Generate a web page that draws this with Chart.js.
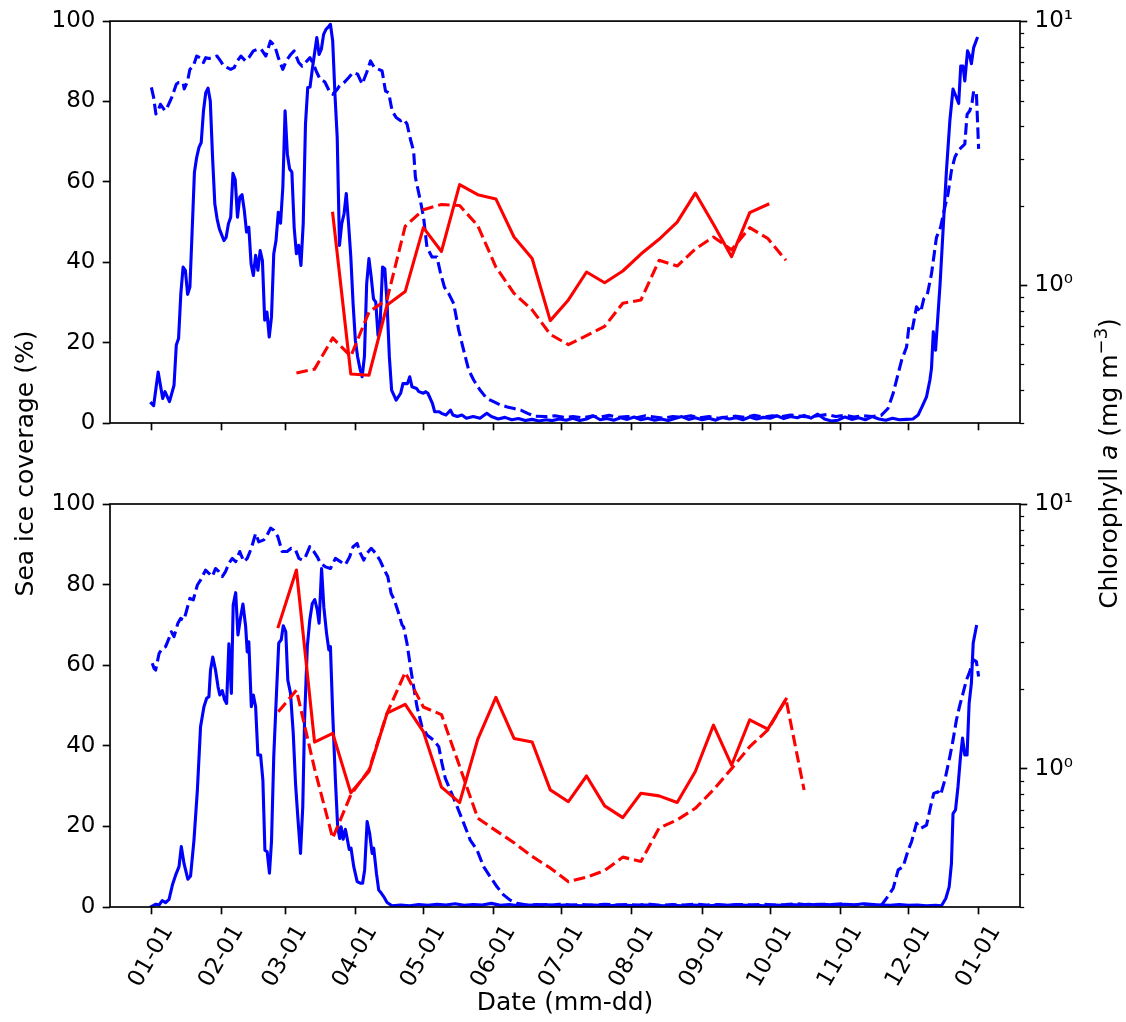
<!DOCTYPE html>
<html><head><meta charset="utf-8">
<script src="https://cdn.jsdelivr.net/npm/chart.js@4.4.0/dist/chart.umd.min.js"></script>
<style>
html,body{margin:0;padding:0;background:#fff;}
#wrap{position:relative;width:1126px;height:1022px;background:#fff;}
canvas{position:absolute;left:0;top:0;}
</style></head><body>
<div id="wrap"><canvas id="c1" width="1126" height="1022" style="width:1126px;height:1022px"></canvas><canvas id="c2" width="1126" height="1022" style="width:1126px;height:1022px"></canvas></div>
<script>
// ---------- DATA ----------
const monthTickDays = [0,31,59,90,120,151,181,212,243,273,304,334,365];
const monthTickLabels = ['01-01','02-01','03-01','04-01','05-01','06-01','07-01','08-01','09-01','10-01','11-01','12-01','01-01'];
const chlTickValues = [0.3,0.4,0.5,0.6,0.7,0.8,0.9,1,2,3,4,5,6,7,8,9,10];

// top panel: sea ice of the year (solid) [day, %]
const topIceYear = [[0,4.9],[1,4.3],[3,12.7],[5,6.1],[6,7.8],[8,5.3],[10,9.4],[11,19.4],[12,21],[13,32.2],[14,38.8],[15,38],[16,32],[17,33.8],[18,47.9],[19,62.4],[20,66.1],[21,68.6],[22,69.8],[23,77.7],[24,82.2],[25,83.3],[26,80.1],[27,66.1],[28,54.5],[29,50.8],[30,48.3],[32,45.4],[33,46.2],[34,49.6],[35,51.2],[36,62.1],[37,60.5],[38,51.2],[39,56.2],[40,56.8],[41,52.9],[42,47.5],[43,48.7],[44,39.6],[45,36.7],[46,41.7],[47,38],[48,42.9],[49,40.4],[50,25.6],[51,27.6],[52,21.4],[53,26.4],[54,42.1],[55,45.4],[56,52.4],[57,49.7],[58,58.6],[59,77.7],[60,66.9],[61,63.2],[62,62.4],[63,48.7],[64,42.1],[65,44.2],[66,39.2],[67,49.6],[68,74.4],[69,83.5],[70,83.6],[71,88],[72,92],[73,95.9],[74,91.7],[75,93],[76,96.7],[77,97.9],[78,98.5],[79,99.2],[80,95.1],[81,81.8],[82,71],[83,44.2],[84,49.6],[85,52],[86,57.1],[87,49.6],[88,41.3],[89,29.7],[90,20.6],[91,16.5],[92,13.6],[93,11.5],[94,16.5],[95,34.7],[96,40.9],[97,36.3],[98,30.9],[99,30.1],[100,21.8],[101,25.6],[102,38.8],[103,38.4],[104,29.7],[105,16.5],[106,8.2],[108,5.7],[110,7.4],[111,9.8],[113,9.8],[114,11.5],[115,9],[117,8.6],[118,7.8],[120,7.4],[121,7.8],[122,7.4],[124,4.9],[125,2.8],[127,2.8],[128,2.4],[130,2],[132,3.2],[133,2],[135,1.6],[137,2],[139,1.2],[142,1.6],[145,1.2],[148,2.4],[150,1.6],[153,1.0],[156,1.4],[159,0.8],[162,1.1],[165,0.6],[168,0.9],[171,0.5],[174,0.8],[177,0.6],[180,1.0],[183,0.7],[186,1.2],[189,0.6],[192,1.0],[195,1.8],[198,0.8],[201,1.1],[204,0.7],[207,1.3],[210,0.9],[213,1.5],[216,0.8],[219,1.2],[222,0.7],[225,1.0],[228,0.6],[231,1.1],[234,1.6],[237,0.9],[240,1.3],[243,0.8],[246,1.2],[249,0.7],[252,1.4],[255,1.0],[258,1.3],[261,0.8],[264,1.5],[267,1.0],[270,1.4],[273,1.2],[276,1.8],[279,1.1],[282,1.6],[285,1.3],[288,1.9],[291,1.2],[294,2.2],[297,1.0],[300,0.5],[303,0.7],[306,1.5],[309,0.9],[312,1.3],[315,0.8],[318,1.6],[321,1.0],[324,0.7],[327,1.2],[330,0.8],[333,0.9],[336,1.0],[338.3,2],[340,4],[342,6.5],[343.5,10.7],[344.2,13.6],[345,22.7],[346,18.1],[347,26.4],[348,34.7],[349.3,47.9],[350.8,62.8],[352.3,75.2],[353.7,83.1],[355.2,81],[356.2,79.5],[357.1,88.8],[358.1,88.8],[358.9,85.1],[360.1,92.6],[361.1,91.3],[361.8,89.4],[362.8,93.4],[364.3,95.7]];

// top panel: sea ice climatology (dashed) [day, %]
const topIceClim = [[0,83.5],[1,81],[2,76.9],[3,77.7],[4,79.3],[6,77.7],[7,78.5],[9,81],[11,84.3],[12,84.7],[14,84.7],[14.5,83.1],[16,85.1],[17,88],[18.5,88.8],[20,91.3],[21.5,90.9],[23,89.7],[24,90.9],[25.5,90.7],[27,90.9],[29,91.3],[30.5,90.1],[32,88.8],[33.5,88.4],[35,88],[36.5,88.4],[38,90.1],[39.5,91.3],[41.5,90.1],[43,90.9],[45,92.6],[47,93],[48.5,93],[50.5,91.3],[52.5,95],[54.5,93.8],[56,90.9],[58,88],[59.5,90.1],[61.5,91.7],[63,92.6],[65,89.7],[66.5,88.8],[68,89.7],[70,90.9],[71.5,89.3],[73,87.2],[74.5,85.5],[76.5,84.9],[78.5,82.6],[80,81.8],[82,83],[83,83.9],[85,84.7],[87,85.9],[89,87.2],[91,86.8],[93,84.3],[95,87.2],[96.7,90.1],[98.4,88.4],[100.3,88],[101.8,87.6],[103.3,82.6],[104.7,82.2],[106.2,77.7],[108,76],[110,75.2],[111.3,75.6],[112.8,74.4],[114.3,70.6],[115.7,67.7],[116.5,61.1],[118.7,55.3],[120.1,51.2],[121.6,43.7],[123.8,41.3],[126,41.3],[127.5,37.5],[129.3,33.8],[131.2,32.2],[133.4,29.7],[135.6,23.1],[137.8,18.1],[140,13.2],[142.2,10.7],[145,8.2],[148,6.1],[151,5.3],[154,4.5],[157,4],[160,3.6],[163,3.2],[166,2.4],[169,1.7],[174,1.6],[178,1.8],[182,1.4],[186,1.6],[190,1.3],[194,1.7],[198,1.5],[202,1.9],[206,1.4],[210,1.6],[214,1.3],[218,1.8],[222,1.5],[226,1.2],[230,1.6],[234,1.4],[238,1.8],[242,1.3],[246,1.6],[250,1.2],[254,1.5],[258,1.7],[262,1.4],[266,1.9],[270,1.5],[274,1.8],[278,1.6],[282,2.0],[286,1.7],[290,1.5],[294,1.8],[298,2.1],[302,1.6],[306,1.9],[310,1.5],[314,1.8],[318,1.6],[322,1.9],[325,3.6],[327.3,7.4],[329.5,12.3],[331,15.6],[333.2,18.9],[334.3,24.3],[335.8,23.5],[337.6,28.9],[339.4,27.6],[340.8,30.9],[342.3,31.8],[344.2,37.1],[346.4,46.2],[348.2,48.7],[350.1,53.7],[351.5,57],[353,62.8],[354.5,66.1],[356,67.7],[357.4,68.6],[358.9,69.4],[359.9,76.8],[361.1,77.7],[362.1,79.7],[362.8,82.6],[364,82.2],[365,68.2]];

// top panel chlorophyll a (mg m-3)
const topChlYearDays = [80,88,96,104,112,120,128,136,144,152,160,168,176,184,192,200,208,216,224,232,240,248,256,264,272];
const topChlYear = [1.87,0.46,0.455,0.84,0.944,1.65,1.34,2.4,2.2,2.12,1.52,1.26,0.733,0.878,1.12,1.02,1.13,1.31,1.49,1.73,2.23,1.7,1.28,1.88,2.02];
const topChlClimDays = [64,72,80,88,96,104,112,120,128,136,144,152,160,168,176,184,192,200,208,216,224,232,240,248,256,264,272,280];
const topChlClim = [0.464,0.48,0.63,0.537,0.79,0.883,1.67,1.93,2.02,2.0,1.68,1.17,0.93,0.805,0.65,0.594,0.643,0.697,0.853,0.877,1.24,1.18,1.37,1.52,1.36,1.65,1.5,1.24];

// bottom panel: sea ice of the year (solid)
const botIceYear = [[0,0.1],[2,0.7],[3.4,0.5],[4.8,1.6],[6.3,1.1],[7.8,1.9],[9.3,5.5],[10.7,7.9],[12.2,10],[13.2,15],[14.4,10.8],[16.1,6.9],[17.3,7.7],[18.8,16.6],[20.3,29],[21.7,44.7],[23.2,49.7],[24.4,51.8],[25.4,52.2],[26.1,58.8],[27.1,62],[28.3,58.8],[29.4,54.7],[30.2,52.6],[31.3,53.7],[32.3,51.4],[33.2,50.5],[34.2,65.3],[35.3,53],[36.1,74.9],[37.2,78],[38.2,67.5],[39.4,72],[40.4,75.2],[41.6,69.6],[42.3,63.3],[43,65.8],[44.1,49.7],[45,52.6],[46,49.7],[47,37.7],[48.2,37.7],[49.2,31.5],[50.1,14.1],[51.1,13.7],[52.1,8.4],[53,16.2],[54,37.3],[55.2,53],[56.2,65.5],[57.3,66.3],[58.2,69.8],[59.3,68.3],[60.2,56.3],[61.4,53],[62.6,43.1],[63.6,30.7],[64.6,22.4],[65.8,13.3],[66.8,24.9],[67.6,46.4],[68.8,64.6],[69.9,71.2],[71,75.3],[72.1,76.3],[73.2,73.7],[74,70.4],[75.1,84],[76.1,74.4],[77.3,67.9],[78.3,63.8],[79,64.6],[80,48.1],[81.2,31.5],[82.2,19.9],[83.1,17],[83.7,19.9],[84.6,16.8],[85.6,19.3],[86.4,17],[87.3,14.3],[88.1,14.6],[89.3,10],[90.8,6.3],[92.2,5.9],[93.2,5.9],[94.1,9.2],[95.2,21.2],[96.3,18.3],[97.4,13.3],[98.1,14.6],[99.3,8.4],[100.3,4.2],[101.5,3.4],[102.5,2.6],[104,1.1],[106.2,0.3],[110,0.5],[114,0.3],[118,0.6],[122,0.4],[126,0.7],[130,0.5],[134,0.8],[138,0.4],[142,0.6],[146,0.5],[150,0.9],[154,0.4],[158,0.6],[162,0.3],[166,0.5],[170,0.4],[174,0.6],[178,0.3],[182,0.5],[186,0.4],[190,0.3],[194,0.5],[198,0.4],[202,0.3],[206,0.5],[210,0.4],[214,0.3],[218,0.5],[222,0.4],[226,0.3],[230,0.4],[234,0.3],[238,0.5],[242,0.4],[246,0.3],[250,0.5],[254,0.4],[258,0.6],[262,0.4],[266,0.5],[270,0.3],[274,0.5],[278,0.4],[282,0.6],[286,0.5],[290,0.7],[294,0.5],[298,0.6],[302,0.5],[306,0.7],[310,0.5],[314,0.8],[318,0.6],[322,0.5],[326,0.4],[330,0.6],[334,0.4],[338,0.5],[342,0.3],[346,0.4],[348.6,0.3],[350.5,2.1],[352,5],[353,10.8],[353.7,23.2],[354.8,24.1],[355.9,29.9],[357,37.3],[357.9,41.9],[358.9,37.7],[359.9,37.7],[360.8,50.5],[361.8,55.5],[362.6,65.5],[364,69.6]];

// bottom panel: sea ice climatology (dashed)
const botIceClim = [[0.4,60.5],[1.2,59.2],[1.9,58.8],[3.4,62.9],[4.8,64.2],[6.3,64.6],[7.8,66.7],[8.8,68.3],[10,67.1],[11.7,70.4],[12.9,71.6],[14.4,71.2],[15.6,73.7],[17,76.6],[18.5,76.2],[20.3,79.9],[21.7,81.1],[23.9,83.6],[25.4,82.8],[26.9,82],[28.3,84],[29.8,83.2],[31.3,82],[32.7,83.2],[34.2,85.3],[35.7,86.5],[37.2,85.7],[39,88.2],[40.8,85.7],[42.3,86.5],[44.1,89],[46,92.7],[47.4,90.6],[49.6,91.1],[51.1,92.3],[52.6,94],[54,93.5],[55.8,91.9],[57.7,88.2],[59.9,88.2],[61.7,89],[63.6,88.6],[65.1,86.5],[66.5,86.1],[68,86.9],[69.9,89.4],[71.7,88.2],[73.2,86.9],[74.6,85.3],[76.8,84.4],[79,84],[81.2,86.5],[83.4,85.7],[85.6,84.9],[87.5,86.9],[89,89.4],[90.8,90.2],[92.2,87.8],[93.7,86.1],[95.2,87.8],[97,89],[98.9,87.8],[100.8,86.1],[102.5,84],[104.3,82],[105.8,77.8],[107.2,76.2],[109.1,72.9],[110.6,70],[111.3,69.5],[112.8,65.4],[114.3,59.6],[115.7,54.7],[117.2,49.7],[119.4,44.7],[121.6,42.7],[124.5,41.4],[126.8,39.8],[128.2,35.7],[129.7,31.9],[131.9,29],[134.9,24.9],[137.8,20.8],[140.7,16.6],[143.7,14.1],[146.6,10],[149.5,7.5],[152.5,5],[155.4,3],[158.3,1.7],[161.3,0.9],[165.7,0.5],[170,0.6],[175,0.4],[180,0.7],[185,0.5],[190,0.6],[195,0.4],[200,0.7],[205,0.5],[210,0.6],[215,0.5],[220,0.7],[225,0.4],[230,0.6],[235,0.5],[240,0.7],[245,0.5],[250,0.6],[255,0.4],[260,0.6],[265,0.5],[270,0.7],[275,0.5],[280,0.6],[285,0.8],[290,0.5],[295,0.7],[300,0.6],[305,0.8],[310,0.5],[315,0.7],[320,0.6],[322.2,0.5],[324.4,2.2],[327.3,4.6],[329.5,9.2],[331.7,10],[333.9,14.1],[335.4,16.2],[337.6,20.8],[339.4,19.5],[342,20.3],[343.8,24.9],[345.2,28.2],[347.1,28.6],[348.2,27.8],[350.1,31.5],[352.3,37.3],[353.7,41.4],[355.2,46.4],[356.7,50.1],[358.1,53],[359.6,56.3],[361.1,58.4],[362.1,60.5],[362.9,61.3],[364,60.9],[365,57.2]];

// bottom panel chlorophyll a
const botChlYearDays = [56,64,72,80,88,96,104,112,120,128,136,144,152,160,168,176,184,192,200,208,216,224,232,240,248,256,264,272,280];
const botChlYear = [3.44,5.63,1.26,1.36,0.81,0.975,1.62,1.75,1.38,0.851,0.744,1.29,1.86,1.30,1.26,0.831,0.75,0.938,0.723,0.653,0.807,0.789,0.745,0.975,1.46,1.03,1.53,1.41,1.83];
const botChlClimDays = [56,64,72,80,88,96,104,112,120,128,136,144,152,160,168,176,184,192,200,208,216,224,232,240,248,256,264,272,280,288];
const botChlClim = [1.64,1.98,1.0,0.546,0.796,0.99,1.62,2.31,1.71,1.6,1.02,0.65,0.583,0.525,0.466,0.421,0.374,0.389,0.412,0.463,0.446,0.596,0.64,0.708,0.832,1.0,1.21,1.4,1.83,0.83];

const xAxisTitle = 'Date (mm-dd)';
const leftAxisTitle = 'Sea ice coverage (%)';

// ---------- STYLE / LAYOUT ----------
const FONT = '"DejaVu Sans"';
const TICK_PX = 23;
const LAB_PX = 25;
const BLUE = '#0000ff', RED = '#ff0000';
const LW = 3.1;
const DASH = [11.6, 5];
const W = 1126, H = 1022;
const PLOT_L = 110, PLOT_R = 1020;
const TOP_T = 20, TOP_B = 423, BOT_T = 504, BOT_B = 907;
const TL = 7.3, PAD = 7.3;

Chart.defaults.font.family = FONT;
Chart.defaults.color = '#000';

const pairs = a => a.map(p => ({x: p[0], y: p[1]}));
const zip = (d, v) => d.map((x, i) => ({x, y: v[i]}));

function lineDs(data, color, dashed, axis) {
  return {data, borderColor: color, backgroundColor: color, borderWidth: LW,
    borderDash: dashed ? DASH : [], borderCapStyle: dashed ? 'butt' : 'square', borderJoinStyle: 'round',
    pointRadius: 0, pointHoverRadius: 0, tension: 0, fill: false, yAxisID: axis};
}

const framePlugin = {
  id: 'frame',
  afterDraw(chart) {
    const {ctx, chartArea: a} = chart;
    ctx.save();
    const s = chart.scales.y2;
    ctx.strokeStyle = '#000';
    ctx.lineWidth = 1.25;
    chlTickValues.forEach(v => {
      if (v === 1 || v === 10) return;
      const y = Math.round(s.getPixelForValue(v)) + 0.5;
      ctx.beginPath(); ctx.moveTo(a.right, y); ctx.lineTo(a.right + 4.2, y); ctx.stroke();
    });
    ctx.lineWidth = 1.67;
    ctx.strokeRect(a.left, a.top, a.right - a.left, a.bottom - a.top);
    ctx.restore();
  }
};

const textPlugin = {
  id: 'texts',
  afterDraw(chart) {
    const ctx = chart.ctx;
    const xs = chart.scales.x;
    const a = chart.chartArea;
    ctx.save();
    ctx.fillStyle = '#000';
    ctx.font = `${TICK_PX}px ${FONT}`;
    const y0 = a.bottom + TL + PAD;
    const ang = 60 * Math.PI / 180;
    monthTickDays.forEach((d, i) => {
      const s = monthTickLabels[i];
      const x = xs.getPixelForValue(d);
      const w = ctx.measureText(s).width;
      const h = TICK_PX * 1.0;
      const bh = w * Math.sin(ang) + h * Math.cos(ang);
      ctx.save();
      ctx.translate(x, y0 + bh / 2);
      ctx.rotate(-ang);
      ctx.textAlign = 'center'; ctx.textBaseline = 'middle';
      ctx.fillText(s, 0, 0);
      ctx.restore();
    });
    ctx.font = `${LAB_PX}px ${FONT}`;
    ctx.textAlign = 'center'; ctx.textBaseline = 'middle';
    ctx.fillText(xAxisTitle, (a.left + a.right) / 2, 1003);
    ctx.save();
    ctx.translate(26, (TOP_B + BOT_T) / 2);
    ctx.rotate(-Math.PI / 2);
    ctx.fillText(leftAxisTitle, 0, 0);
    ctx.restore();
    const parts = [
      {t: 'Chlorophyll ', f: `${LAB_PX}px ${FONT}`, dy: 0},
      {t: 'a', f: `italic ${LAB_PX}px ${FONT}`, dy: 0},
      {t: ' (mg m', f: `${LAB_PX}px ${FONT}`, dy: 0},
      {t: '\u22123', f: `${Math.round(LAB_PX * 0.7)}px ${FONT}`, dy: -LAB_PX * 0.42},
      {t: ')', f: `${LAB_PX}px ${FONT}`, dy: 0}
    ];
    let total = 0;
    parts.forEach(p => { ctx.font = p.f; p.w = ctx.measureText(p.t).width; total += p.w; });
    ctx.save();
    ctx.translate(1108, (TOP_B + BOT_T) / 2);
    ctx.rotate(-Math.PI / 2);
    ctx.textAlign = 'left'; ctx.textBaseline = 'alphabetic';
    let cx = -total / 2;
    const base = LAB_PX * 0.36;
    parts.forEach(p => { ctx.font = p.f; ctx.fillText(p.t, cx, base + p.dy); cx += p.w; });
    ctx.restore();
    ctx.restore();
  }
};

function makeChart(canvasId, top, bottom, iceYear, iceClim, chlYear, chlClim, plugins) {
  return new Chart(document.getElementById(canvasId), {
    type: 'line',
    data: {datasets: [
      lineDs(chlYear, RED, false, 'y2'),
      lineDs(chlClim, RED, true, 'y2'),
      lineDs(iceYear, BLUE, false, 'y'),
      lineDs(iceClim, BLUE, true, 'y')
    ]},
    options: {
      responsive: false, animation: false, devicePixelRatio: 1, parsing: false,
      layout: {padding: {top: top, left: 0, right: 0, bottom: 0}},
      plugins: {legend: {display: false}, tooltip: {enabled: false}},
      events: [],
      scales: {
        x: {
          type: 'linear', min: -18.25, max: 383.25, position: 'bottom',
          afterBuildTicks: s => { s.ticks = monthTickDays.map(v => ({value: v})); },
          afterFit: s => { s.height = H - bottom; },
          ticks: {display: false},
          grid: {drawOnChartArea: false, drawTicks: true, tickLength: TL, tickColor: '#000', tickWidth: 1.67},
          border: {display: false}
        },
        y: {
          type: 'linear', min: 0, max: 100, position: 'left',
          afterBuildTicks: s => { s.ticks = [0,20,40,60,80,100].map(v => ({value: v})); },
          afterFit: s => { s.width = PLOT_L; },
          ticks: {font: {size: TICK_PX, family: FONT}, color: '#000', padding: PAD, autoSkip: false},
          grid: {drawOnChartArea: false, drawTicks: true, tickLength: TL, tickColor: '#000', tickWidth: 1.67},
          border: {display: false}
        },
        y2: {
          type: 'logarithmic', min: 0.3, max: 10, position: 'right',
          afterBuildTicks: s => { s.ticks = chlTickValues.map(v => ({value: v, major: v === 1 || v === 10})); },
          afterFit: s => { s.width = W - PLOT_R; },
          ticks: {font: {size: TICK_PX, family: FONT}, color: '#000', padding: PAD, autoSkip: false,
            callback: v => v === 1 ? '10\u2070' : (v === 10 ? '10\u00b9' : '')},
          grid: {drawOnChartArea: false, drawTicks: true, tickLength: TL, tickWidth: 1.67,
            tickColor: c => (c.tick && (c.tick.value === 1 || c.tick.value === 10)) ? '#000' : 'rgba(0,0,0,0)'},
          border: {display: false}
        }
      }
    },
    plugins: plugins
  });
}

makeChart('c1', TOP_T, TOP_B, pairs(topIceYear), pairs(topIceClim),
  zip(topChlYearDays, topChlYear), zip(topChlClimDays, topChlClim), [framePlugin]);
makeChart('c2', BOT_T, BOT_B, pairs(botIceYear), pairs(botIceClim),
  zip(botChlYearDays, botChlYear), zip(botChlClimDays, botChlClim), [framePlugin, textPlugin]);
</script>
</body></html>
